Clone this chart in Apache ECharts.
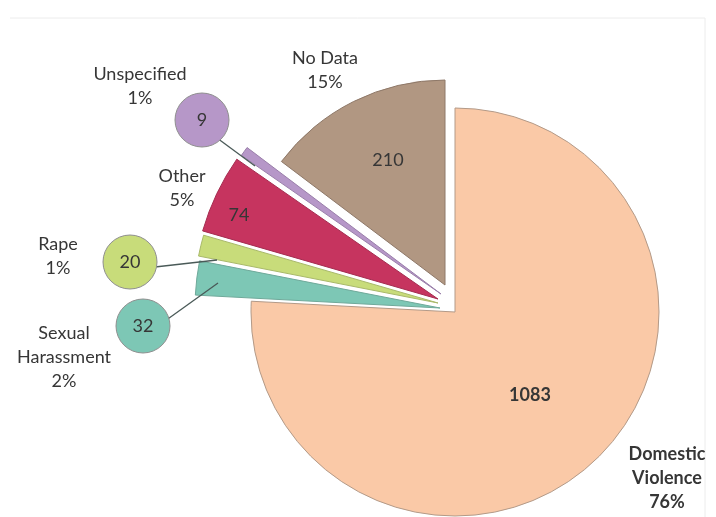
<!DOCTYPE html>
<html>
<head>
<meta charset="utf-8">
<script src="https://cdn.jsdelivr.net/npm/echarts@6/dist/echarts.min.js"></script>
<style>
  html, body { margin: 0; padding: 0; background: #fff; }
  #chart { width: 716px; height: 517px; }
</style>
</head>
<body>
<div id="chart"></div>
<script>
// data, clockwise from 12 o'clock
const categories = ['Domestic Violence', 'Sexual Harassment', 'Rape', 'Other', 'Unspecified', 'No Data'];
const counts = [1083, 32, 20, 74, 9, 210];
const labelLines = [['Domestic', 'Violence'], ['Sexual', 'Harassment'], ['Rape'], ['Other'], ['Unspecified'], ['No Data']];

// look of each slice (exploded slices each get their own centre)
const colors = ['#FAC9A7', '#7DC7B5', '#C8DC7A', '#C6345F', '#B697C8', '#B19782'];
const borders = ['#B39A88', '#6FA99A', '#A9B96A', '#A52C50', '#9A7FAA', '#8E7868'];
const centers = [[455, 312], [440, 308], [438, 303], [438, 299], [441, 294], [445, 285]];
const radii = [204, 245, 244, 245, 243, 205];

const total = counts.reduce((a, b) => a + b, 0);
const pct = counts.map(v => Math.round(v * 100 / total) + '%');

const FONT = 'Lato, "Open Sans", sans-serif';
const TXT = '#363636';

// one pie per slice so every slice can sit at its own offset
const series = categories.map((name, i) => ({
  type: 'pie',
  center: centers[i],
  radius: [0, radii[i]],
  startAngle: 90,
  clockwise: true,
  silent: true,
  animation: false,
  avoidLabelOverlap: false,
  label: { show: false },
  labelLine: { show: false },
  emphasis: { disabled: true },
  data: categories.map((n, j) => ({
    name: n,
    value: counts[j],
    itemStyle: j === i
      ? { color: colors[j], borderColor: borders[j], borderWidth: 1 }
      : { color: 'rgba(0,0,0,0)', borderWidth: 0 }
  }))
}));

function text(str, x, y, opts) {
  opts = opts || {};
  return {
    type: 'text', z: 100, silent: true,
    style: {
      text: str, x: x, y: y,
      align: 'center', verticalAlign: 'middle',
      textAlign: 'center', textVerticalAlign: 'middle',
      fontFamily: FONT, fontSize: opts.size || 18,
      fontWeight: opts.bold ? 'bold' : 'normal',
      lineHeight: 24, fill: TXT
    }
  };
}

// category labels (name + percent)
const catPos = [[667, 478], [64, 357], [58, 256], [182, 188], [140, 86], [325, 70]];
const valuePos = [[530, 395], [143, 326], [130, 262], [239, 215], [202, 120], [388, 160]];
const bubble = [false, true, true, false, true, false];
const leaders = { 1: [165, 321, 218, 283], 2: [155, 267, 217, 260], 4: [217, 138, 255, 166] };

const graphics = [
  { type: 'polyline', z: -1, silent: true, shape: { points: [[10, 18], [705, 18], [705, 517]] },
    style: { fill: 'none', stroke: '#ececec', lineWidth: 1 } }
];

categories.forEach((name, i) => {
  const bold = i === 0;
  graphics.push(text(labelLines[i].concat(pct[i]).join('\n'), catPos[i][0], catPos[i][1], { bold: bold }));
  if (leaders[i]) {
    const l = leaders[i];
    graphics.push({ type: 'line', z: 90, silent: true, shape: { x1: l[0], y1: l[1], x2: l[2], y2: l[3] },
      style: { stroke: '#4a5a58', lineWidth: 1.3 } });
  }
  if (bubble[i]) {
    graphics.push({ type: 'circle', z: 95, silent: true,
      shape: { cx: valuePos[i][0], cy: valuePos[i][1], r: 27 },
      style: { fill: colors[i], stroke: '#8f8f8f', lineWidth: 1 } });
  }
  graphics.push(text(String(counts[i]), valuePos[i][0], valuePos[i][1], { bold: bold }));
});

const chart = echarts.init(document.getElementById('chart'));
chart.setOption({
  backgroundColor: '#fff',
  animation: false,
  series: series,
  graphic: { elements: graphics }
});
</script>
</body>
</html>
